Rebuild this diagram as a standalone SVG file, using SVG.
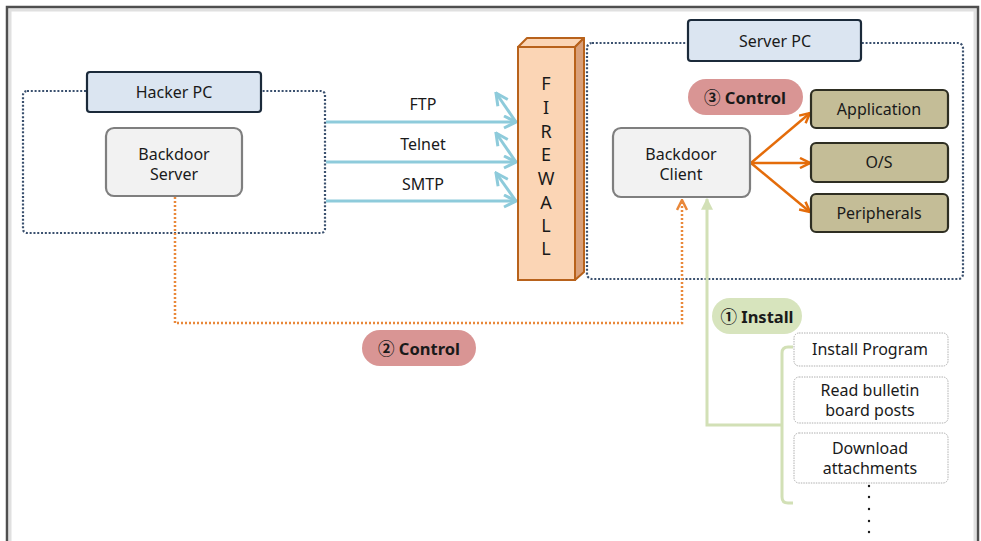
<svg xmlns="http://www.w3.org/2000/svg" width="981" height="541" viewBox="0 0 981 541">
<style>
  text { font-family: "Noto Sans", "Open Sans", "Noto Sans CJK KR", sans-serif; font-size: 16px; fill: #1a1a1a; text-anchor: middle; dominant-baseline: central; }
  .bold { font-weight: bold; font-size: 16.5px; }
  .group { fill: none; stroke: #3a506e; stroke-width: 2.2; stroke-dasharray: 2 1.8; }
  .title { fill: #dbe5f1; stroke: #1b2a3a; stroke-width: 2.2; }
  .proc { fill: #f2f2f2; stroke: #7f7f7f; stroke-width: 2.2; }
  .res { fill: #c4bd97; stroke: #2e2e22; stroke-width: 2.2; }
  .item { fill: #ffffff; stroke: #b0b0b0; stroke-width: 1; stroke-dasharray: 1.5 1; }
  .blue { fill: none; stroke: #8ecbdb; stroke-width: 3; }
  .orange { fill: none; stroke: #e46c0a; stroke-width: 2.5; }
  .odot { fill: none; stroke: #e9883a; stroke-width: 2.5; stroke-dasharray: 2 2; }
  .green { fill: none; stroke: #d2e0b6; stroke-width: 3; }
  .fw { font-size: 18px; }
</style>
<defs>
  <marker id="ab" viewBox="0 0 10 10" refX="9" refY="5" markerWidth="5" markerHeight="5" orient="auto" markerUnits="strokeWidth">
    <path d="M1,1 L9,5 L1,9" fill="none" stroke="#8ecbdb" stroke-width="2"/>
  </marker>
  <marker id="ao" viewBox="0 0 10 10" refX="9" refY="5" markerWidth="5" markerHeight="5" orient="auto" markerUnits="strokeWidth">
    <path d="M1,1 L9,5 L1,9" fill="none" stroke="#e46c0a" stroke-width="2"/>
  </marker>
  <marker id="aod" viewBox="0 0 10 10" refX="9" refY="5" markerWidth="5" markerHeight="5" orient="auto" markerUnits="strokeWidth">
    <path d="M1,1 L9,5 L1,9" fill="none" stroke="#e9883a" stroke-width="2"/>
  </marker>
  <marker id="ag" viewBox="0 0 10 10" refX="9" refY="5" markerWidth="4" markerHeight="4" orient="auto" markerUnits="strokeWidth">
    <path d="M0,0 L10,5 L0,10 Z" fill="#d2e0b6"/>
  </marker>
</defs>

<!-- outer frame -->
<rect x="0" y="0" width="981" height="541" fill="#ffffff"/>
<rect x="10" y="10" width="965" height="560" fill="none" stroke="#e0e0e0" stroke-width="3"/>
<rect x="7" y="7" width="971" height="560" fill="none" stroke="#4f4f4f" stroke-width="2.5"/>

<!-- group boxes -->
<g id="hacker-pc">
  <rect class="group" x="23" y="91" width="302" height="142" rx="4"/>
  <rect class="title" x="87" y="72" width="174" height="40" rx="3"/>
  <text x="174" y="92">Hacker PC</text>
</g>
<g id="server-pc">
  <rect class="group" x="587" y="43" width="376" height="236" rx="5"/>
  <rect class="title" x="688" y="20" width="173" height="41" rx="3"/>
  <text x="775" y="41">Server PC</text>
</g>

<!-- connectors -->
<g id="connectors">
  <line class="blue" x1="326" y1="122" x2="516" y2="122" marker-end="url(#ab)"/>
  <line class="blue" x1="516" y1="122" x2="496" y2="93" marker-end="url(#ab)"/>
  <line class="blue" x1="326" y1="162" x2="516" y2="162" marker-end="url(#ab)"/>
  <line class="blue" x1="516" y1="162" x2="496" y2="133" marker-end="url(#ab)"/>
  <line class="blue" x1="326" y1="201" x2="516" y2="201" marker-end="url(#ab)"/>
  <line class="blue" x1="516" y1="201" x2="496" y2="173" marker-end="url(#ab)"/>

  <line class="orange" x1="751" y1="163" x2="810" y2="113" marker-end="url(#ao)"/>
  <line class="orange" x1="751" y1="163" x2="810" y2="163" marker-end="url(#ao)"/>
  <line class="orange" x1="751" y1="163" x2="810" y2="212" marker-end="url(#ao)"/>

  <polyline class="odot" points="175,197 175,323 682,323 682,200" marker-end="url(#aod)"/>

  <polyline class="green" points="782,425 707,425 707,199" marker-end="url(#ag)"/>
  <path class="green" d="M793,347 L788,347 Q782,347 782,353 L782,497 Q782,503 788,503 L793,503"/>
</g>

<!-- firewall -->
<g id="firewall">
  <polygon points="518,47 527,38 584,38 575,47" fill="#fbd5b5" stroke="#b8621b" stroke-width="2" stroke-linejoin="round"/>
  <polygon points="575,47 584,38 584,272 575,280" fill="#d9a07a" stroke="#b8621b" stroke-width="2" stroke-linejoin="round"/>
  <rect x="518" y="47" width="57" height="233" fill="#fbd5b5" stroke="#b8621b" stroke-width="2"/>
  <text class="fw" x="546" y="83">F</text>
  <text class="fw" x="546" y="107">I</text>
  <text class="fw" x="546" y="131">R</text>
  <text class="fw" x="546" y="154">E</text>
  <text class="fw" x="546" y="178">W</text>
  <text class="fw" x="546" y="202">A</text>
  <text class="fw" x="546" y="225">L</text>
  <text class="fw" x="546" y="248">L</text>
</g>

<!-- labels -->
<g id="label-ftp"><text x="423" y="104">FTP</text></g>
<g id="label-telnet"><text x="423" y="144">Telnet</text></g>
<g id="label-smtp"><text x="423" y="184">SMTP</text></g>

<g id="backdoor-server">
  <rect class="proc" x="106" y="128" width="136" height="68" rx="8"/>
  <text x="174" y="154">Backdoor</text>
  <text x="174" y="174">Server</text>
</g>

<g id="backdoor-client">
  <rect class="proc" x="613" y="128" width="137" height="69" rx="8"/>
  <text x="681" y="154">Backdoor</text>
  <text x="681" y="174">Client</text>
</g>

<g id="control-3">
  <rect x="688" y="79" width="115" height="36" rx="18" fill="#d99594"/>
  <text class="bold" x="745" y="97">③ Control</text>
</g>

<g id="application">
  <rect class="res" x="811" y="90" width="137" height="38" rx="5"/>
  <text x="879" y="109">Application</text>
</g>
<g id="os">
  <rect class="res" x="811" y="143" width="137" height="39" rx="5"/>
  <text x="879" y="162">O/S</text>
</g>
<g id="peripherals">
  <rect class="res" x="811" y="194" width="137" height="38" rx="5"/>
  <text x="879" y="213">Peripherals</text>
</g>

<g id="control-2">
  <rect x="362" y="330" width="114" height="36" rx="18" fill="#d99594"/>
  <text class="bold" x="419" y="348">② Control</text>
</g>

<g id="install-1">
  <rect x="712" y="298" width="90" height="36" rx="18" fill="#d7e4bd"/>
  <text class="bold" x="757" y="316">① Install</text>
</g>

<g id="install-program">
  <rect class="item" x="794" y="333" width="154" height="33" rx="5"/>
  <text x="870" y="349">Install Program</text>
</g>
<g id="read-bulletin">
  <rect class="item" x="794" y="377" width="154" height="46" rx="5"/>
  <text x="870" y="390">Read bulletin</text>
  <text x="870" y="410">board posts</text>
</g>
<g id="download">
  <rect class="item" x="794" y="433" width="154" height="50" rx="5"/>
  <text x="870" y="448">Download</text>
  <text x="870" y="468">attachments</text>
</g>

<g id="ellipsis" fill="#1a1a1a">
  <circle cx="869" cy="486" r="1.2"/>
  <circle cx="869" cy="497" r="1.2"/>
  <circle cx="869" cy="509" r="1.2"/>
  <circle cx="869" cy="521" r="1.2"/>
  <circle cx="869" cy="532" r="1.2"/>
</g>
</svg>
